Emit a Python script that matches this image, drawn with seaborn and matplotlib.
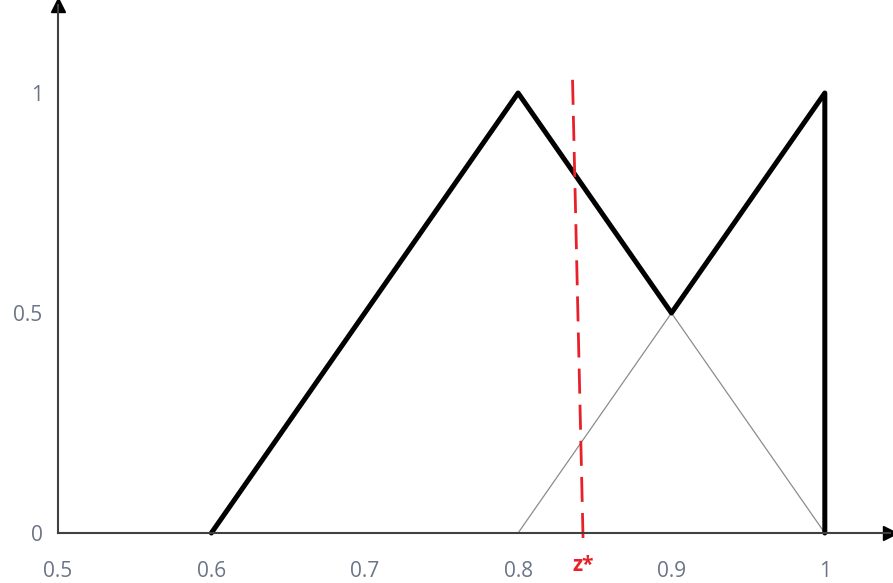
import matplotlib
matplotlib.use("Agg")
import matplotlib.pyplot as plt
import seaborn as sns
import pandas as pd

# aggregated output (thick) and the clipped triangle underneath (thin)
agg_x = [0.6, 0.8, 0.9, 1.0, 1.0]
agg_y = [0.0, 1.0, 0.5, 1.0, 0.0]
tri_x = [0.8, 0.9, 1.0]
tri_y = [0.0, 0.5, 0.0]

# centroid marker z* (drawn slightly slanted in the original)
z_x = [0.8355, 0.8425]
z_y = [1.03, -0.035]

xticks = [0.5, 0.6, 0.7, 0.8, 0.9, 1.0]
xticklabels = ["0.5", "0.6", "0.7", "0.8", "0.9", "1"]
yticks = [0, 0.5, 1]
yticklabels = ["0", "0.5", "1"]

sns.set_style("white")
plt.rcParams['font.family'] = ['Open Sans', 'DejaVu Sans']

fig = plt.figure(figsize=(8.93, 5.83), dpi=100)
ax = fig.add_axes([58 / 893, 50 / 583, (890 - 58) / 893, (533 - 5) / 583])

df_agg = pd.DataFrame({"x": agg_x, "y": agg_y})
df_tri = pd.DataFrame({"x": tri_x, "y": tri_y})
df_z = pd.DataFrame({"x": z_x, "y": z_y})

sns.lineplot(data=df_tri, x="x", y="y", sort=False, estimator=None, color="#8c8c8c",
             linewidth=0.9, ax=ax)
sns.lineplot(data=df_agg, x="x", y="y", sort=False, estimator=None, color="black",
             linewidth=3.6, ax=ax, clip_on=False)
sns.lineplot(data=df_z, x="x", y="y", sort=False, estimator=None, color="#e8202a",
             linewidth=2.0, ax=ax, clip_on=False, linestyle=(0, (9, 4)))

xmax, ymax = 1.0425, 1.2
ax.set_xlim(0.5, xmax)
ax.set_ylim(0, ymax)

for s in ["top", "right"]:
    ax.spines[s].set_visible(False)
for s in ["left", "bottom"]:
    ax.spines[s].set_color("#404040")
    ax.spines[s].set_linewidth(1.5)

# arrow heads
ax.plot([0.5], [ymax], marker="^", color="black", markersize=10, clip_on=False)
ax.plot([xmax], [0], marker=">", color="black", markersize=10, clip_on=False)

lab_color = "#6b7487"
ax.set_xticks(xticks)
ax.set_xticklabels(xticklabels)
ax.set_yticks(yticks)
ax.set_yticklabels(yticklabels)
ax.tick_params(axis="x", length=0, pad=20, labelsize=15, labelcolor=lab_color)
ax.tick_params(axis="y", length=0, pad=11, labelsize=15, labelcolor=lab_color)
ax.set_xlabel("")
ax.set_ylabel("")

ax.text(0.8425, -0.05, "z*", color="#e8202a", fontsize=15, fontweight="bold",
        ha="center", va="top", clip_on=False)

fig.savefig("out.png", dpi=100)
